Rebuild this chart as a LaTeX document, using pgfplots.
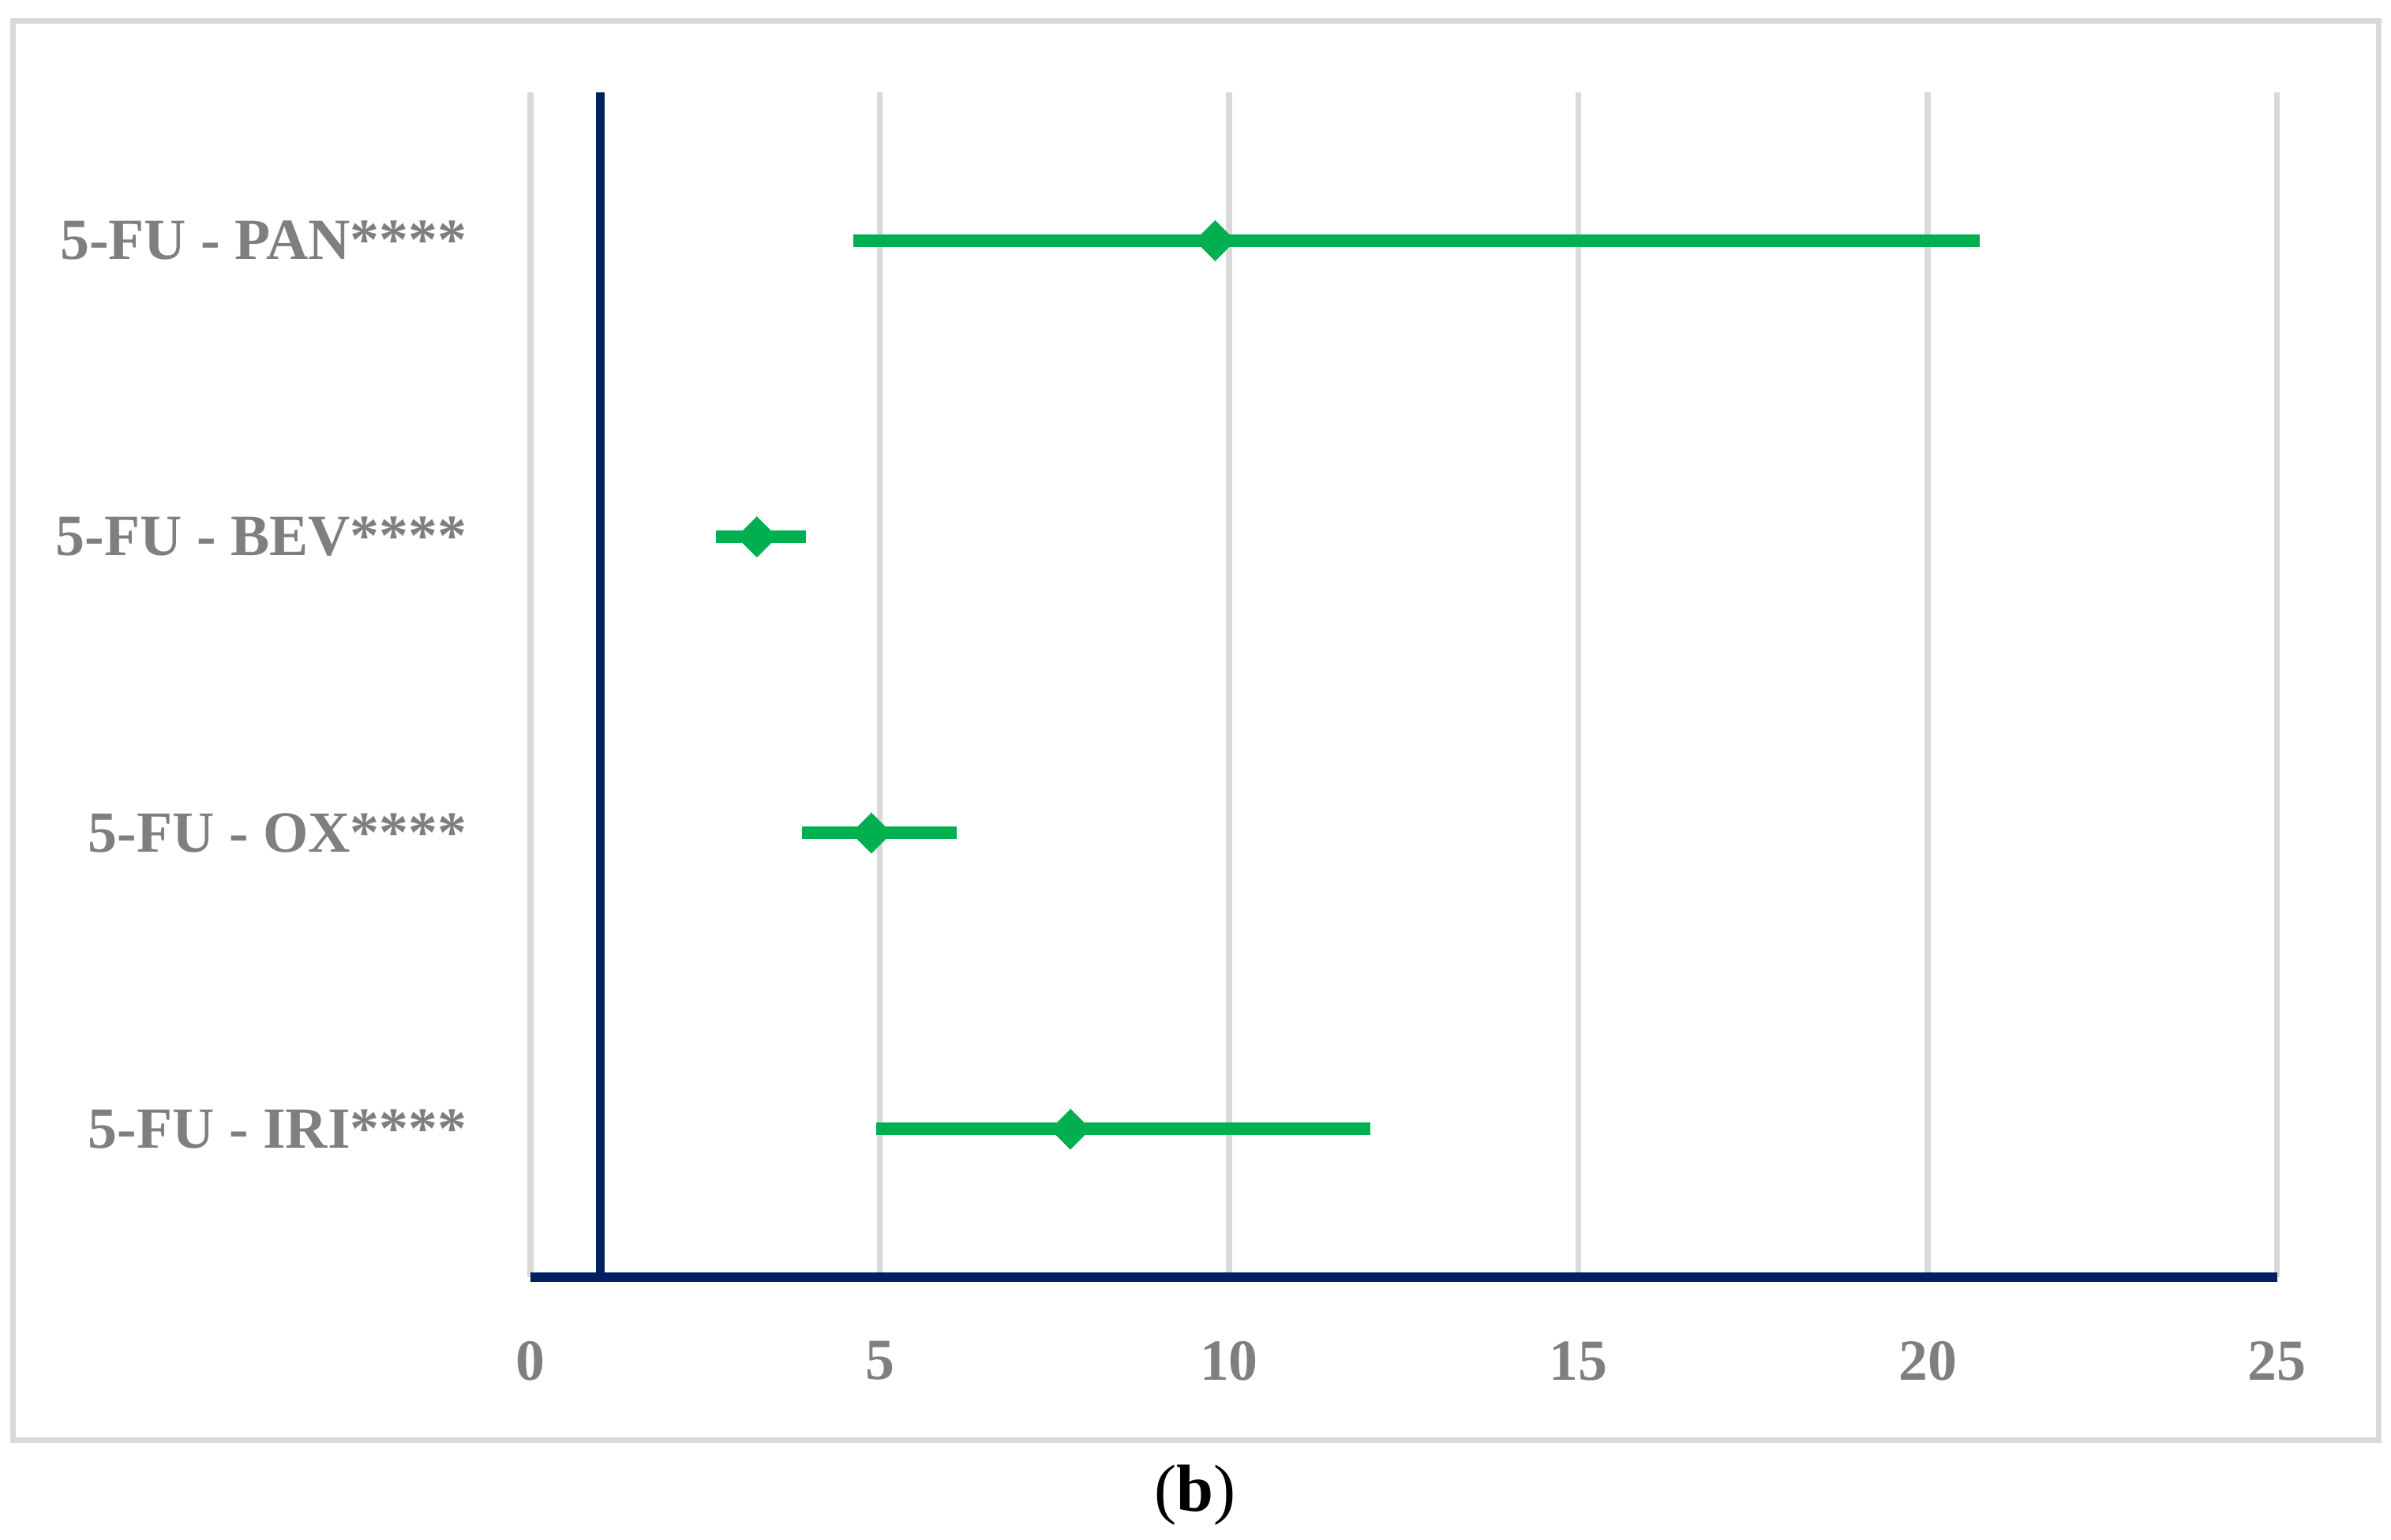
\documentclass[border=0pt]{standalone}
\usepackage{fontspec}
\setmainfont{Liberation Serif}
\usepackage{pgfplots}
\usepackage{pgfplotstable}
\pgfplotsset{compat=1.18}
\definecolor{navy}{HTML}{002060}
\definecolor{xlgreen}{HTML}{00B050}
\definecolor{gridgray}{HTML}{D9D9D9}
\definecolor{txtgray}{HTML}{7F7F7F}

\pgfplotstableread{
y   m     em    ep
3.5 9.80  5.18  10.95
2.5 3.24  0.58  0.70
1.5 4.88  0.99  1.22
0.5 7.73  2.78  4.29
}\ordata

\begin{document}
\begin{tikzpicture}
\useasboundingbox (0,0) rectangle (15.145,-9.755);
\draw[gridgray, line width=1pt] (0.0835,-0.1335) rectangle (15.065,-9.1225);
\begin{axis}[
  at={(3.36cm,-8.09cm)}, anchor=south west,
  scale only axis, width=11.0625cm, height=7.505cm,
  xmin=0, xmax=25, ymin=0, ymax=4,
  axis line style={draw=none},
  xtick={0,5,10,15,20,25}, ytick={0.5,1.5,2.5,3.5},
  yticklabels={5-FU - IRI****, 5-FU - OX****, 5-FU - BEV****, 5-FU - PAN****},
  major tick length=0pt,
  xmajorgrids, grid style={gridgray, line width=1pt},
  ticklabel style={font=\fontsize{10.5}{12}\selectfont\bfseries, text=txtgray},
  /pgf/number format/assume math mode=true,
  xticklabel style={anchor=center, inner sep=0pt, yshift=-0.53cm},
  yticklabel style={anchor=east, inner sep=0pt, xshift=-0.395cm},
  clip=false,
]
\addplot[navy, line width=1.5pt] coordinates {(1,0) (1,4)};
\addplot[navy, line width=1.7pt] coordinates {(0,0) (25,0)};
\addplot[xlgreen, only marks, mark=square*, mark size=2.56pt,
  mark options={rotate=45, fill=xlgreen, draw=xlgreen, line width=0pt},
  error bars/.cd, x dir=both, x explicit, error mark=none,
  error bar style={xlgreen, line width=2.27pt}]
  table[x=m, y=y, x error minus=em, x error plus=ep] {\ordata};
\end{axis}
\node[font=\fontsize{12}{14}\selectfont] at (7.57,-9.47) {(\textbf{b})};
\end{tikzpicture}
\end{document}
